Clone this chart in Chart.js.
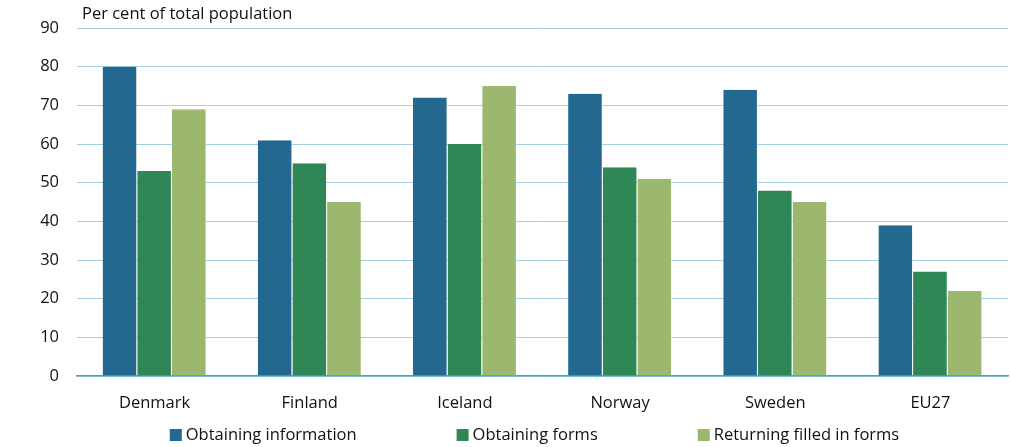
<!DOCTYPE html>
<html><head><meta charset="utf-8">
<script src="https://cdn.jsdelivr.net/npm/chart.js@4.4.0/dist/chart.umd.min.js"></script>
<style>html,body{margin:0;padding:0;background:#fff}#wrap{width:1010px;height:447px}</style>
</head><body><div id="wrap"><canvas id="c" width="1010" height="447"></canvas></div>
<script>
const categories = ["Denmark","Finland","Iceland","Norway","Sweden","EU27"];
const obtainingInformation = [80,61,72,73,74,39];
const obtainingForms = [53,55,60,54,48,27];
const returningForms = [69,45,75,51,45,22];
const seriesNames = ["Obtaining information","Obtaining forms","Returning filled in forms"];
const yTicks = [0,10,20,30,40,50,60,70,80,90];
const unitLabel = "Per cent of total population";
const FONT = "'Open Sans', sans-serif";
const FS = 16.5;
const FW = 500;
const TXT = "#111111";

const unitPlugin = {
  id:'unit',
  afterDraw(chart){
    const ctx=chart.ctx; ctx.save();
    ctx.font=FW+" "+FS+"px "+FONT; ctx.fillStyle=TXT; ctx.textBaseline="middle"; ctx.textAlign="left";
    ctx.fillText(unitLabel, chart.chartArea.left+5, 14);
    // custom legend
    const box=12, gapBox=4, gap=100;
    const items=chart.data.datasets.map(d=>({label:d.label,color:d.backgroundColor,w:box+gapBox+ctx.measureText(d.label).width}));
    const total=items.reduce((s,i)=>s+i.w,0)+gap*(items.length-1);
    let x=(chart.chartArea.left+chart.chartArea.right)/2-8-total/2;
    const y=chart.height-12;
    items.forEach(it=>{
      ctx.fillStyle=it.color; ctx.fillRect(x,y-box/2,box,box);
      ctx.fillStyle=TXT; ctx.fillText(it.label,x+box+gapBox,y);
      x+=it.w+gap;
    });
    ctx.restore();
  }
};
const colors=["#23688f","#2e8755","#9bb86e"];
new Chart(document.getElementById('c'),{
  type:'bar',
  data:{labels:categories,datasets:[
    {label:seriesNames[0],data:obtainingInformation,backgroundColor:colors[0]},
    {label:seriesNames[1],data:obtainingForms,backgroundColor:colors[1]},
    {label:seriesNames[2],data:returningForms,backgroundColor:colors[2]}
  ].map(d=>Object.assign(d,{borderColor:'rgba(255,255,255,0.45)',borderWidth:{left:0,right:1,top:0,bottom:0},categoryPercentage:0.67,barPercentage:1}))},
  options:{
    responsive:false,animation:false,
    layout:{padding:{top:28,right:2,left:0,bottom:0}},
    plugins:{legend:{display:false},tooltip:{enabled:false}},
    scales:{
      x:{grid:{display:false},border:{color:'#4f9bcb',width:1.5},
         ticks:{font:{family:FONT,size:FS,weight:FW},color:TXT,padding:9},
         afterFit(ax){ax.height=71;}},
      y:{min:0,max:90,afterBuildTicks(ax){ax.ticks=yTicks.map(v=>({value:v}));},
         grid:{color:'#a3cfe6',drawTicks:false},border:{display:false},
         ticks:{font:{family:FONT,size:FS,weight:FW},color:TXT,padding:18},
         afterFit(ax){ax.width=77;}}
    }
  },
  plugins:[unitPlugin]
});
</script></body></html>
